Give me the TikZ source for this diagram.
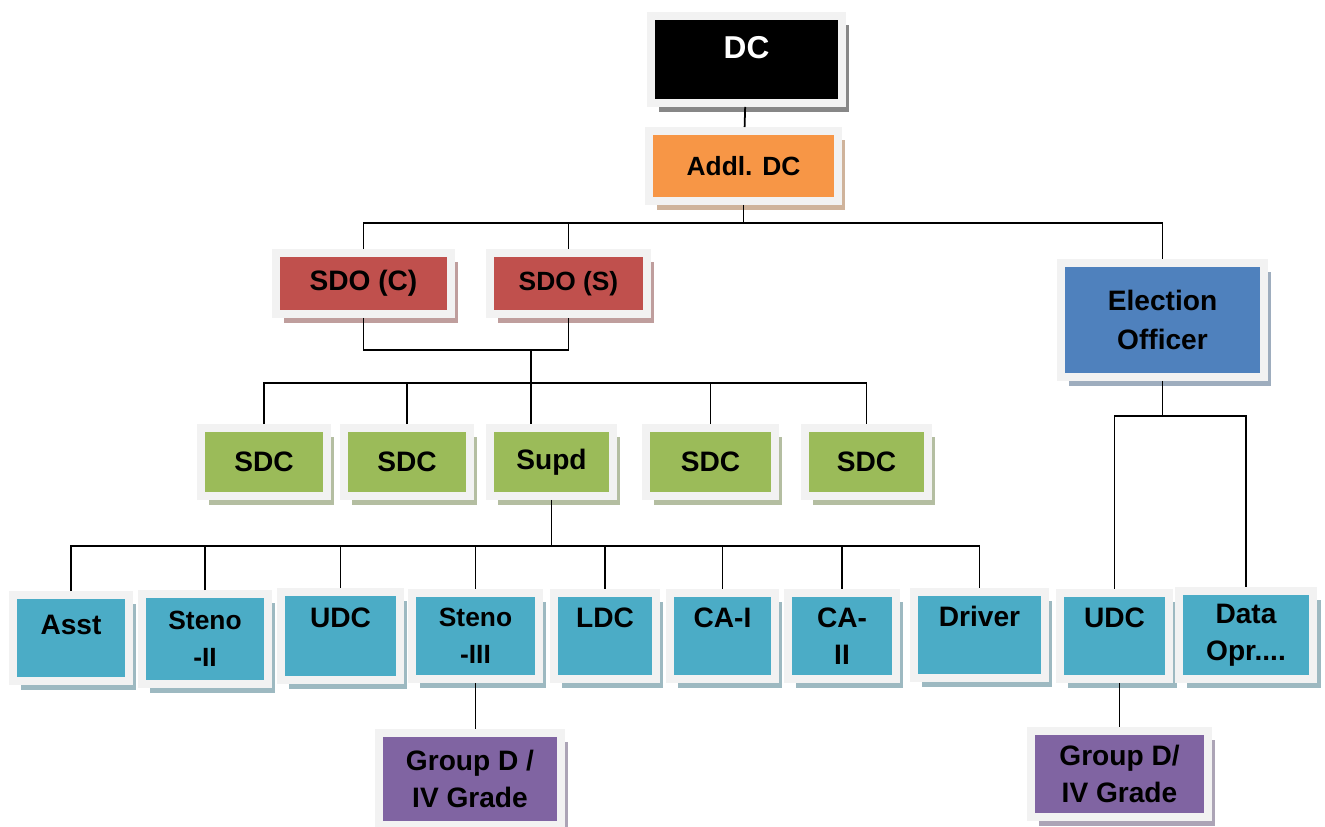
\documentclass[tikz,border=0pt]{standalone}
\usepackage{fontspec}
\setmainfont{Liberation Sans}
\usetikzlibrary{shadows}
\definecolor{framegray}{HTML}{F2F2F2}
\definecolor{dcblack}{HTML}{000000}
\definecolor{addlorange}{HTML}{F79646}
\definecolor{sdored}{HTML}{C0504D}
\definecolor{elecblue}{HTML}{4F81BD}
\definecolor{sdcgreen}{HTML}{9BBB59}
\definecolor{staffaqua}{HTML}{4BACC6}
\definecolor{grppurple}{HTML}{8064A2}

\begin{document}
\begin{tikzpicture}[x=0.02cm,y=-0.02cm,
    orgbox/.style={draw=framegray,line width=0.16cm,fill=#1,inner sep=0pt,align=center,
      font=\fontsize{16}{21}\selectfont\bfseries,
      general shadow={fill=#1!45!gray!65,shadow xshift=0.15cm,shadow yshift=-0.18cm}},
    link/.style={line width=1pt}]
  \useasboundingbox (0,0) rectangle (1325,827);
  \node[orgbox=dcblack,text=white,minimum width=3.82cm,minimum height=1.74cm,
    font=\fontsize{18}{21}\selectfont\bfseries] (dc) at (746.5,59.5) {DC\\[-7pt]~};
  \node[orgbox=addlorange,minimum width=3.78cm,minimum height=1.4cm,
    font=\fontsize{15}{19}\selectfont\bfseries] (addl) at (743.5,166) {Addl. DC};
  \node[orgbox=sdored,minimum width=3.5cm,minimum height=1.22cm] (sdoc) at (363.5,283.5) {SDO (C)};
  \node[orgbox=sdored,minimum width=3.14cm,minimum height=1.22cm,
    font=\fontsize{15}{19}\selectfont\bfseries] (sdos) at (568.5,283.5) {SDO (S)};
  \node[orgbox=elecblue,minimum width=4.06cm,minimum height=2.28cm] (elec) at (1162.5,320) {Election\\[1pt]Officer};
  \node[orgbox=sdcgreen,minimum width=2.52cm,minimum height=1.36cm] (sdca) at (264,462) {SDC};
  \node[orgbox=sdcgreen,minimum width=2.52cm,minimum height=1.36cm] (sdcb) at (407,462) {SDC};
  \node[orgbox=sdcgreen,minimum width=2.46cm,minimum height=1.36cm] (supd) at (551.5,462) {Supd};
  \node[orgbox=sdcgreen,minimum width=2.58cm,minimum height=1.36cm] (sdcc) at (710.5,462) {SDC};
  \node[orgbox=sdcgreen,minimum width=2.46cm,minimum height=1.36cm] (sdcd) at (866.5,462) {SDC};
  \node[orgbox=staffaqua,minimum width=2.32cm,minimum height=1.72cm] (asst) at (71,638) {Asst\\[-6pt]~};
  \node[orgbox=staffaqua,minimum width=2.52cm,minimum height=1.8cm,
    font=\fontsize{15}{21}\selectfont\bfseries] (stenoii) at (205,639) {Steno\\-II};
  \node[orgbox=staffaqua,minimum width=2.38cm,minimum height=1.76cm] (udca) at (340.5,636) {UDC\\~};
  \node[orgbox=staffaqua,minimum width=2.54cm,minimum height=1.74cm,
    font=\fontsize{15}{21}\selectfont\bfseries] (stenoiii) at (475.5,636) {Steno\\-III};
  \node[orgbox=staffaqua,minimum width=2.04cm,minimum height=1.74cm] (ldc) at (605,636) {LDC\\~};
  \node[orgbox=staffaqua,minimum width=2.1cm,minimum height=1.74cm] (cai) at (722.5,636) {CA-I\\~};
  \node[orgbox=staffaqua,minimum width=2.16cm,minimum height=1.74cm] (caii) at (842,636) {CA-\\II};
  \node[orgbox=staffaqua,minimum width=2.62cm,minimum height=1.74cm] (driver) at (979.5,635) {Driver\\~};
  \node[orgbox=staffaqua,minimum width=2.18cm,minimum height=1.74cm] (udcb) at (1114.5,636) {UDC\\~};
  \node[orgbox=staffaqua,minimum width=2.68cm,minimum height=1.76cm] (datopr) at (1246,635) {Data\\Opr....};
  \node[orgbox=grppurple,minimum width=3.64cm,minimum height=1.84cm] (grpa) at (470,779) {Group D /\\IV Grade};
  \node[orgbox=grppurple,minimum width=3.54cm,minimum height=1.74cm] (grpb) at (1119.5,774) {Group D/\\IV Grade};
  \coordinate (bus1) at (745,223);
  \coordinate (bus2) at (0,350);
  \coordinate (join2) at (531,350);
  \coordinate (bus3) at (0,383);
  \coordinate (bus4) at (0,546);
  \coordinate (bus5) at (0,416);
  \draw[link] (dc) -- (addl);
  \draw[link] (addl.south) -- (addl.south |- bus1);
  \draw[link] (sdoc.north) -- (sdoc.north |- bus1) -- (elec.north |- bus1) -- (elec.north);
  \draw[link] (sdos.north) -- (sdos.north |- bus1);
  \draw[link] (sdoc.south) |- (sdos.south |- bus2) -- (sdos.south);
  \draw[link] (join2) -- (join2 |- supd.north);
  \draw[link] (sdca.north) |- (sdcd.north |- bus3) -- (sdcd.north);
  \foreach \n in {sdcb,sdcc}
    \draw[link] (\n.north) -- (\n.north |- bus3);
  \draw[link] (supd.south) -- (supd.south |- bus4);
  \draw[link] (asst.north) |- (driver.north |- bus4) -- (driver.north);
  \foreach \n in {stenoii,udca,stenoiii,ldc,cai,caii}
    \draw[link] (\n.north) -- (\n.north |- bus4);
  \draw[link] (elec.south) -- (elec.south |- bus5);
  \draw[link] (udcb.north) |- (datopr.north |- bus5) -- (datopr.north);
  \draw[link] (stenoiii.south) -- (stenoiii.south |- grpa.north);
  \draw[link] (grpb.north |- udcb.south) -- (grpb.north);
\end{tikzpicture}
\end{document}
